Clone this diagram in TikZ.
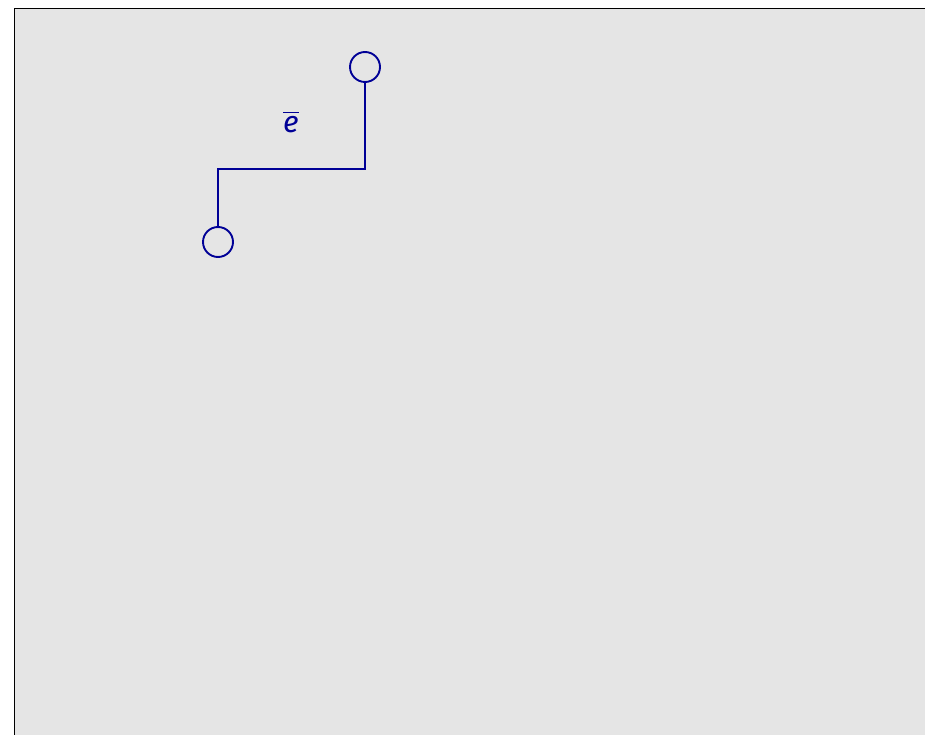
\documentclass[tikz,border=0pt]{standalone}
\usepackage{fontspec}
\newfontfamily\labelfont{Fira Sans}
\definecolor{wire}{RGB}{0,0,150}
\definecolor{bg}{RGB}{229,229,229}
\begin{document}
\begin{tikzpicture}[x=1pt,y=-1pt,
  term/.style={circle,draw=wire,line width=1.9pt,minimum size=30pt,inner sep=0pt},
  wireline/.style={draw=wire,line width=1.9pt}]
\useasboundingbox (0,0) rectangle (925,735);
\clip (0,0) rectangle (925,735);
\draw[fill=bg,draw=black,line width=1pt] (14,9) rectangle (960,770);
\node[term] (a) at (365,67) {};
\node[term] (b) at (218,242) {};
\coordinate (c1) at (365,169);
\coordinate (c2) at (218,169);
\draw[wireline] (a.south) -- (c1) -- (c2) -- (b.north);
\node[text=wire,inner sep=0pt] (lbl) at (291,122)
  {\fontsize{30}{32}\labelfont\itshape\selectfont\vbox{\hrule height 1.9pt\kern 2.5pt\hbox{e}}};
\end{tikzpicture}
\end{document}
